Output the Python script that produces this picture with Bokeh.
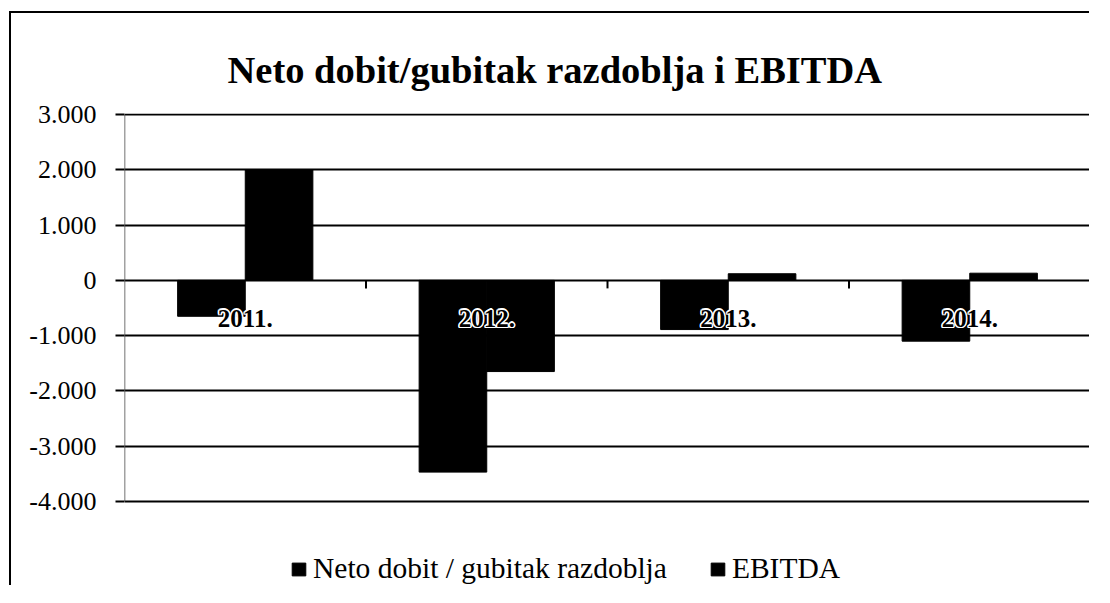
import math
from bokeh.plotting import figure
from bokeh.models import (Range1d, FactorRange, ColumnDataSource, Legend, LegendItem, FixedTicker)
from bokeh.transform import dodge
from bokeh.core.properties import value
from bokeh.embed import file_html
from bokeh.resources import INLINE

# ---- data ----
years = ["2011.", "2012.", "2013.", "2014."]
neto = [-650, -3470, -890, -1100]
ebitda = [2000, -1650, 120, 130]
series_names = ["Neto dobit / gubitak razdoblja", "EBITDA"]
y_ticks = [-4000, -3000, -2000, -1000, 0, 1000, 2000, 3000]
y_tick_labels = ["-4.000", "-3.000", "-2.000", "-1.000", "0", "1.000", "2.000", "3.000"]
title_text = "Neto dobit/gubitak razdoblja i EBITDA"

FONT = "Liberation Serif"

src = ColumnDataSource(dict(year=years, neto=neto, ebitda=ebitda))

# frame extends below the value axis to hold the legend area
p = figure(x_range=FactorRange(factors=years), y_range=Range1d(-5558, 3020),
           width=1080, height=574, output_backend="svg", toolbar_location=None,
           min_border_left=113, min_border_right=1, min_border_top=100, min_border_bottom=0)
p.margin = (11, 0, 0, 9)
p.styles = {"border-left": "2px solid black", "border-top": "2px solid black"}
p.outline_line_color = None
p.background_fill_color = "white"
p.border_fill_color = "white"

# title
p.title.text = title_text
p.title.align = "left"
p.title.offset = 103
p.title.text_font = FONT
p.title.text_font_style = "bold"
p.title.text_font_size = "38.5px"
p.title.text_color = "black"
p.title.standoff = 46

# bars
r1 = p.vbar(x=dodge("year", -0.14, range=p.x_range), top="neto", width=0.28,
            source=src, fill_color="black", line_color="black")
r2 = p.vbar(x=dodge("year", 0.14, range=p.x_range), top="ebitda", width=0.28,
            source=src, fill_color="black", line_color="black")

# value-axis line only across the tick span (left edge of the category range)
p.segment(x0=0, y0=min(y_ticks), x1=0, y1=max(y_ticks), line_color="#444444", line_width=1.5)

# boundary tick marks on the zero line (synthetic category boundaries)
p.ray(x=list(range(1, len(years) + 1)), y=0, length=8, length_units="screen",
      angle=-math.pi / 2, line_color="black", line_width=2)

# category labels at zero line with white halo
halo = [(-1.5, 0), (1.5, 0), (0, -1.5), (0, 1.5), (-1.2, -1.2), (1.2, 1.2), (-1.2, 1.2), (1.2, -1.2)]
for dx, dy in halo:
    p.text(x="year", y=0, text="year", source=src, x_offset=dx, y_offset=38 + dy,
           text_color="white", text_font=value(FONT), text_font_style="bold",
           text_font_size="25px", text_align="center", text_baseline="middle")
p.text(x="year", y=0, text="year", source=src, x_offset=0, y_offset=38,
       text_color="black", text_font=value(FONT), text_font_style="bold",
       text_font_size="25px", text_align="center", text_baseline="middle")

p.xaxis.visible = False
p.xgrid.visible = False

# y axis
p.yaxis.ticker = FixedTicker(ticks=y_ticks)
p.yaxis.major_label_overrides = {t: l for t, l in zip(y_ticks, y_tick_labels)}
p.yaxis.major_label_text_font = FONT
p.yaxis.major_label_text_font_size = "26px"
p.yaxis.major_label_text_color = "black"
p.yaxis.major_tick_in = 0
p.yaxis.major_tick_out = 9
p.yaxis.major_tick_line_width = 2
p.yaxis.major_tick_line_color = "black"
p.yaxis.minor_tick_line_color = None
p.yaxis.axis_line_color = None
p.yaxis.major_label_standoff = 19

p.ygrid.ticker = FixedTicker(ticks=y_ticks)
p.ygrid.grid_line_color = "black"
p.ygrid.grid_line_width = 2
p.ygrid.grid_line_alpha = 1

legend = Legend(items=[LegendItem(label=series_names[0], renderers=[r1]),
                       LegendItem(label=series_names[1], renderers=[r2])],
                orientation="horizontal", location=(166, 2),
                label_text_font=FONT, label_text_font_size="29.5px", label_text_color="black",
                glyph_width=17, glyph_height=16, label_standoff=6, spacing=42,
                padding=0, margin=0, border_line_color=None, background_fill_alpha=0)
p.add_layout(legend, "center")

open("out.html", "w").write(file_html(p, INLINE))
